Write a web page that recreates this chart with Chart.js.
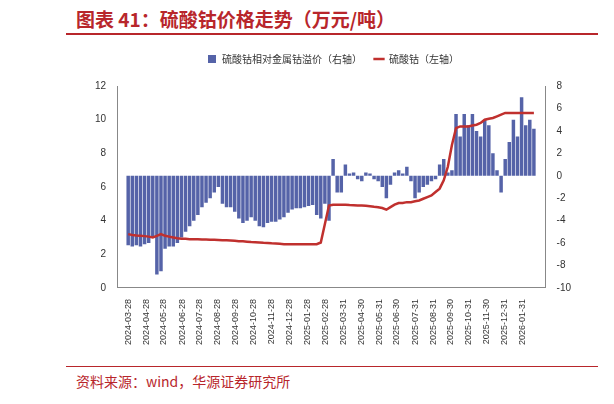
<!DOCTYPE html>
<html><head><meta charset="utf-8">
<script src="https://cdn.jsdelivr.net/npm/chart.js@4/dist/chart.umd.min.js"></script>
<style>
body{margin:0;width:614px;height:404px;background:#fff;position:relative;overflow:hidden;font-family:"Noto Sans CJK SC","Noto Sans",sans-serif}
#t{position:absolute;left:76px;top:5px;font-size:19px;font-weight:bold;color:#b8262b}
#l1{position:absolute;left:66px;top:33px;width:532px;height:2px;background:#b8262b}
#l2{position:absolute;left:66px;top:366px;width:532px;height:1px;background:#b8262b}
#f{position:absolute;left:76px;top:371px;font-size:14px;color:#b8262b}
#c{position:absolute;left:0;top:38px}
</style></head><body>
<div id="t">图表 41：硫酸钴价格走势（万元/吨）</div>
<div id="l1"></div>
<canvas id="c" width="614" height="318"></canvas>
<div id="l2"></div>
<div id="f">资料来源：wind，华源证券研究所</div>
<script>
const startDate = "2024-03-28";
const tickLabels = ["2024-03-28","2024-04-28","2024-05-28","2024-06-28","2024-07-28","2024-08-28","2024-09-28","2024-10-28","2024-11-28","2024-12-28","2025-01-28","2025-02-28","2025-03-31","2025-04-30","2025-05-31","2025-06-30","2025-07-31","2025-08-31","2025-09-30","2025-10-31","2025-11-30","2025-12-31","2026-01-31"];
const priceLeft = [3.2,3.15,3.12,3.1,3.08,3.05,3.0,3.1,3.2,3.1,3.05,3.0,2.95,2.92,2.92,2.9,2.9,2.9,2.88,2.88,2.87,2.86,2.85,2.84,2.83,2.82,2.8,2.78,2.77,2.75,2.73,2.72,2.7,2.68,2.67,2.65,2.64,2.62,2.6,2.6,2.6,2.6,2.6,2.6,2.6,2.6,2.6,2.7,3.8,4.9,4.95,4.95,4.95,4.95,4.93,4.92,4.9,4.9,4.88,4.85,4.82,4.8,4.75,4.65,4.8,4.95,5.05,5.05,5.1,5.1,5.15,5.2,5.3,5.4,5.5,5.7,5.9,6.4,7.2,8.5,9.5,9.6,9.6,9.6,9.65,9.7,9.8,10.0,10.05,10.1,10.2,10.3,10.4,10.4,10.4,10.4,10.4,10.4,10.4,10.4];
const premiumRight = [-6.2,-6.3,-6.2,-6.3,-6.1,-6.0,-5.5,-8.8,-8.5,-6.5,-6.3,-6.3,-6.0,-5.5,-5.0,-4.5,-4.0,-3.5,-2.8,-2.4,-2.0,-1.5,-1.0,-2.5,-2.8,-2.8,-3.2,-3.8,-4.2,-4.0,-3.7,-4.0,-4.5,-4.6,-4.2,-4.1,-4.1,-3.9,-3.7,-3.3,-3.0,-2.9,-2.9,-2.8,-2.7,-2.6,-3.5,-3.8,-2.5,-4.0,1.5,-1.5,-1.5,1.0,0.2,0.3,-0.3,-0.5,0.3,0.2,-0.3,-0.5,-1.0,-2.0,-0.8,0.3,0.5,0.2,0.8,-0.5,-2.0,-1.5,-1.0,-0.8,-0.5,-0.3,1.0,1.5,0.3,0.5,5.5,3.5,5.5,4.5,5.5,4.0,3.5,5.0,4.5,2.0,0.5,-1.5,1.5,3.0,5.0,3.5,7.0,4.5,5.0,4.2];
const DAY = 86400000;
const t0 = Date.parse(startDate);
const dayOf = s => Math.round((Date.parse(s) - t0) / DAY);
const xs = priceLeft.map((_, i) => i * 7);
const red = "#c0302e", blue = "#5563a8";
new Chart(document.getElementById("c"), {
  data: { datasets: [
    { type:"bar", label:"硫酸钴相对金属钴溢价（右轴）", data: premiumRight.map((v,i)=>({x:xs[i],y:v})), yAxisID:"y1", backgroundColor:blue, categoryPercentage:1, barPercentage:0.85, order:2 },
    { type:"line", label:"硫酸钴（左轴）", data: priceLeft.map((v,i)=>({x:xs[i],y:v})), yAxisID:"y", borderColor:red, backgroundColor:red, borderWidth:2.5, pointRadius:0, tension:0, order:1 }
  ]},
  options: {
    responsive:false, animation:false,
    layout:{padding:{left:92,right:40,top:4,bottom:8}},
    plugins:{ legend:{ position:"top", labels:{ font:{size:10,family:"Noto Sans CJK SC"}, color:"#333", usePointStyle:true, boxWidth:40, boxHeight:8, padding:12,
      generateLabels(ch){ return ch.data.datasets.map((d,i)=>({text:d.label, datasetIndex:i, fillStyle:d.type==="bar"?blue:red, strokeStyle:d.type==="bar"?blue:red, lineWidth:d.type==="bar"?0:2.5, pointStyle:d.type==="bar"?"rect":"line", fontColor:"#333"})); } } },
      tooltip:{enabled:false} },
    scales:{
      x:{ type:"linear", min:-3, max:xs[xs.length-1]+4, grid:{display:false, drawTicks:true}, border:{color:"#888"},
        afterBuildTicks(a){ a.ticks = tickLabels.map(s=>({value:dayOf(s)})); },
        ticks:{ autoSkip:false, maxRotation:90, minRotation:90, font:{size:9}, color:"#333", callback:(v)=>{ const s = tickLabels.find(t=>dayOf(t)===v); return s||""; } } },
      y:{ position:"left", min:0, max:12, ticks:{stepSize:2, font:{size:10}, color:"#333"}, grid:{display:false}, border:{color:"#888"} },
      y1:{ position:"right", min:-10, max:8, ticks:{stepSize:2, font:{size:10}, color:"#333"}, grid:{display:false}, border:{color:"#888"} }
    }
  },
  plugins:[{ id:"legendGap", beforeInit(ch){ const orig = ch.legend.fit; ch.legend.fit = function(){ orig.bind(ch.legend)(); this.height += 12; }; } }]
});
</script>
</body></html>
